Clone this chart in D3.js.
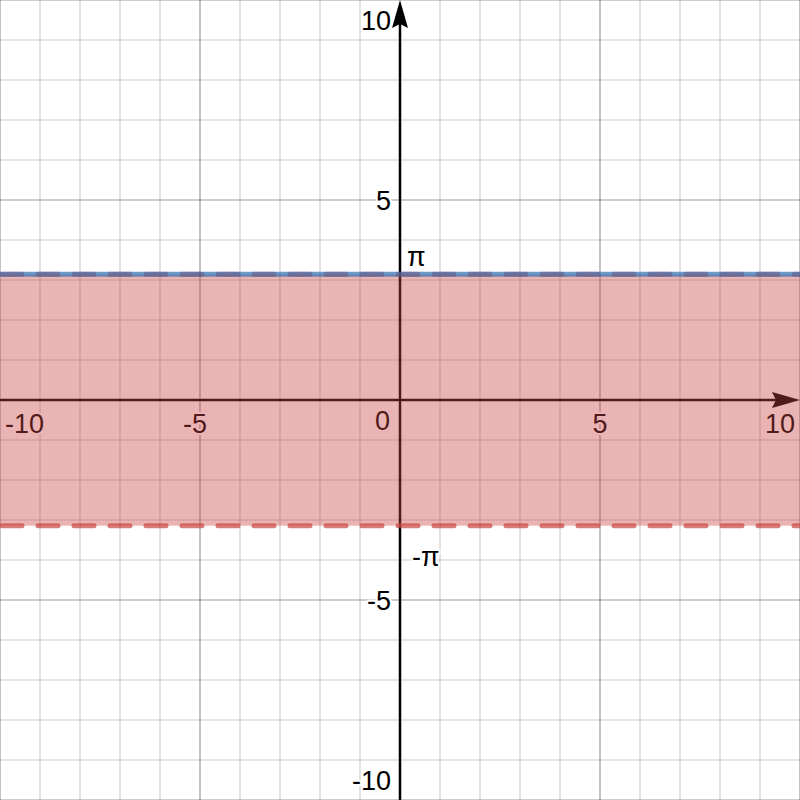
<!DOCTYPE html>
<html><head><meta charset="utf-8">
<script src="https://cdn.jsdelivr.net/npm/d3@7"></script>
<style>html,body{margin:0;padding:0;background:#fff;}svg{display:block;}</style>
</head><body>
<script>
const xDomain = [-10, 10];
const yDomain = [-10, 10];
const minorTicks = d3.range(-10, 11, 1);
const majorTicks = [-10, -5, 0, 5, 10];
const xLabels = [-10, -5, 5, 10];
const yLabels = [10, 5, -5, -10];
const bandLower = -Math.PI;
const bandUpper = Math.PI;
const boundaryLabels = [{v: Math.PI, t: "π"}, {v: -Math.PI, t: "-π"}];

const W = 800, H = 800;
const x = d3.scaleLinear().domain(xDomain).range([0, W]);
const y = d3.scaleLinear().domain(yDomain).range([H, 0]);

const svg = d3.select("body").append("svg").attr("width", W).attr("height", H)
  .style("font-family", "'Liberation Sans', Arial, sans-serif");

// grid
const g = svg.append("g");
g.selectAll(".vx").data(minorTicks.filter(d => d % 5 !== 0)).join("line")
  .attr("x1", d => x(d)).attr("x2", d => x(d)).attr("y1", 0).attr("y2", H)
  .attr("stroke", "#000").attr("stroke-opacity", 0.2).attr("stroke-width", 1.2);
g.selectAll(".hy").data(minorTicks.filter(d => d % 5 !== 0)).join("line")
  .attr("y1", d => y(d)).attr("y2", d => y(d)).attr("x1", 0).attr("x2", W)
  .attr("stroke", "#000").attr("stroke-opacity", 0.2).attr("stroke-width", 1.2);
g.selectAll(".mx").data(majorTicks.filter(d => d !== 0)).join("line")
  .attr("x1", d => x(d)).attr("x2", d => x(d)).attr("y1", 0).attr("y2", H)
  .attr("stroke", "#000").attr("stroke-opacity", 0.4).attr("stroke-width", 1.2);
g.selectAll(".my").data(majorTicks.filter(d => d !== 0)).join("line")
  .attr("y1", d => y(d)).attr("y2", d => y(d)).attr("x1", 0).attr("x2", W)
  .attr("stroke", "#000").attr("stroke-opacity", 0.4).attr("stroke-width", 1.2);

// axes
svg.append("line").attr("x1", 0).attr("x2", W - 20).attr("y1", y(0)).attr("y2", y(0))
  .attr("stroke", "#000").attr("stroke-width", 2.5);
svg.append("line").attr("x1", x(0)).attr("x2", x(0)).attr("y1", 20).attr("y2", H)
  .attr("stroke", "#000").attr("stroke-width", 2.5);
svg.append("path").attr("d", `M${W},${y(0)} L${W-28},${y(0)-8} L${W-24},${y(0)} L${W-28},${y(0)+8} Z`).attr("fill", "#000");
svg.append("path").attr("d", `M${x(0)},0 L${x(0)-8},28 L${x(0)},24 L${x(0)+8},28 Z`).attr("fill", "#000");

// labels
const lab = svg.append("g").attr("font-size", 27).attr("fill", "#000")
  .attr("stroke", "#fff").attr("stroke-width", 4).attr("paint-order", "stroke").attr("stroke-linejoin", "round");
lab.selectAll(".xl").data(xLabels).join("text")
  .attr("x", d => d === -10 ? x(d) + 5 : d === 10 ? x(d) - 5 : (d < 0 ? x(d) - 5 : x(d)))
  .attr("y", y(0) + 33)
  .attr("text-anchor", d => d === -10 ? "start" : d === 10 ? "end" : "middle")
  .text(d => d);
lab.append("text").attr("x", x(0) - 10).attr("y", y(0) + 30).attr("text-anchor", "end").text("0");
lab.selectAll(".yl").data(yLabels).join("text")
  .attr("x", x(0) - 9)
  .attr("y", d => d === 10 ? y(d) + 30 : d === -10 ? y(d) - 10 : y(d) + 10)
  .attr("text-anchor", "end")
  .text(d => d);
lab.selectAll(".bl").data(boundaryLabels).join("text")
  .attr("x", d => d.v > 0 ? x(0) + 7 : x(0) + 12)
  .attr("y", d => y(d.v) + (d.v > 0 ? -8 : 40))
  .attr("text-anchor", "start")
  .text(d => d.t);

// shaded band
svg.append("rect").attr("x", 0).attr("width", W)
  .attr("y", y(bandUpper)).attr("height", y(bandLower) - y(bandUpper))
  .attr("fill", "#c74440").attr("fill-opacity", 0.4);

// upper boundary: blue solid + red dashed
svg.append("line").attr("x1", 0).attr("x2", W).attr("y1", y(bandUpper)).attr("y2", y(bandUpper))
  .attr("stroke", "#2d70b3").attr("stroke-opacity", 0.7).attr("stroke-width", 5);
svg.append("line").attr("x1", 2).attr("x2", W).attr("y1", y(bandUpper)).attr("y2", y(bandUpper))
  .attr("stroke", "#6b4a70").attr("stroke-opacity", 0.45).attr("stroke-width", 5)
  .attr("stroke-dasharray", "20,16").attr("stroke-linecap", "round");
// lower boundary: red dashed
svg.append("line").attr("x1", 2).attr("x2", W).attr("y1", y(bandLower)).attr("y2", y(bandLower))
  .attr("stroke", "#c74440").attr("stroke-opacity", 0.7).attr("stroke-width", 5)
  .attr("stroke-dasharray", "20,16").attr("stroke-linecap", "round");
</script>
</body></html>
